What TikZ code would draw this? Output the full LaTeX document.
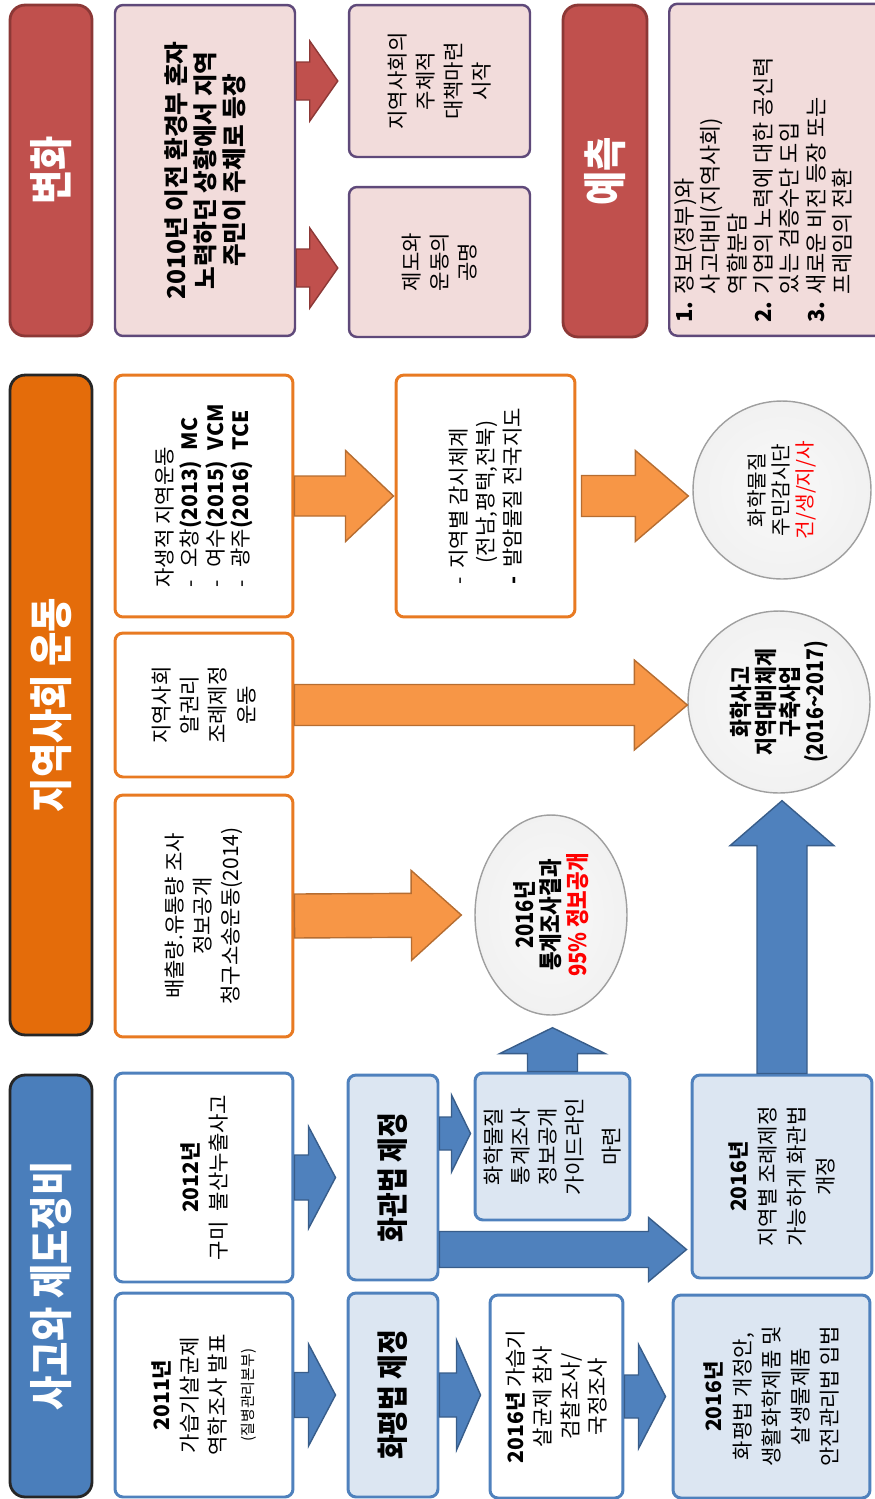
\documentclass[tikz,border=0pt]{standalone}
\usepackage{fontspec}
\setmainfont{Noto Sans CJK KR}
\newfontfamily\headfont[FakeStretch=0.85]{Noto Sans CJK KR}
\usetikzlibrary{calc,shapes.geometric}

\definecolor{hdred}{HTML}{C0504D}
\definecolor{hdredline}{HTML}{8C3836}
\definecolor{pinkfill}{HTML}{F2DCDB}
\definecolor{purpline}{HTML}{5F497A}
\definecolor{hdorange}{HTML}{E46C0A}
\definecolor{boxorange}{HTML}{E87A22}
\definecolor{arrorange}{HTML}{F79646}
\definecolor{arrorangeline}{HTML}{B66D31}
\definecolor{hdblue}{HTML}{4A7EBB}
\definecolor{boxblue}{HTML}{4F81BD}
\definecolor{lightblue}{HTML}{DCE6F2}
\definecolor{arrblueline}{HTML}{385D8A}

\pgfdeclareradialshading{ballgray}{\pgfpoint{0bp}{0bp}}{color(0bp)=(gray!5); color(30bp)=(gray!12); color(50bp)=(gray!40)}

% block arrow: [style](from)(to){shaft half}{head half}{head length}
\def\blockarrow[#1](#2)(#3)#4#5#6{%
  \coordinate (bahead) at ($(#3)!#6!(#2)$);
  \draw[#1] ($(#2)!#4!90:(#3)$) -- ($(bahead)!#4!90:(#3)$) -- ($(bahead)!#5!90:(#3)$) -- (#3)
    -- ($(bahead)!#5!-90:(#3)$) -- ($(bahead)!#4!-90:(#3)$) -- ($(#2)!#4!-90:(#3)$) -- cycle;}

\tikzset{
  headbox/.style={rotate=90, rounded corners=0.3cm, line width=1.6pt, text=white, inner sep=0pt,
    font=\headfont\bfseries\fontsize{25}{28}\selectfont},
  pinkbox/.style={rotate=90, draw=purpline, fill=pinkfill, line width=1.4pt, rounded corners=0.16cm,
    align=center, inner sep=2pt, font=\fontsize{12}{16}\selectfont},
  orbox/.style={rotate=90, draw=boxorange, fill=white, line width=1.7pt, rounded corners=0.16cm,
    align=center, inner sep=2pt, font=\fontsize{12}{16}\selectfont},
  bluebox/.style={rotate=90, draw=boxblue, fill=white, line width=1.7pt, rounded corners=0.16cm,
    align=center, inner sep=2pt, font=\fontsize{12}{16}\selectfont},
  lbluebox/.style={bluebox, fill=lightblue},
  ball/.style={circle, rotate=90, draw=gray!75, line width=0.8pt, shading=ballgray, align=center, inner sep=0pt},
  redarrow/.style={fill=hdred, draw=hdredline, line width=0.8pt},
  orarrow/.style={fill=arrorange, draw=arrorangeline, line width=0.8pt},
  bluearrow/.style={fill=boxblue, draw=arrblueline, line width=0.8pt}
}

\begin{document}
\begin{tikzpicture}[x=0.02cm, y=-0.02cm]
  \useasboundingbox (0,0) rectangle (875,1499);

  %%%%% TOP ROW %%%%%
  \node[headbox, fill=hdred, draw=hdredline, minimum width=6.62cm, minimum height=1.64cm] (hdChange) at (51,170.5) {변화};
  \node[pinkbox, font=\bfseries\fontsize{14}{16.5}\selectfont, minimum width=6.62cm, minimum height=3.6cm] (bigBox) at (205,170.5)
    {2010년 이전 환경부 혼자\\노력하던 상황에서 지역\\주민이 주체로 등장};
  \node[pinkbox, minimum width=3.04cm, minimum height=3.62cm] (ownBox) at (439.5,81) {지역사회의\\주체적\\대책마련\\시작};
  \node[pinkbox, minimum width=3.0cm, minimum height=3.62cm] (resBox) at (439.5,262) {제도와\\운동의\\공명};
  \node[headbox, fill=hdred, draw=hdredline, minimum width=6.64cm, minimum height=1.68cm] (hdForecast) at (605,171) {예측};
  \node[pinkbox, anchor=north west, minimum width=6.64cm, minimum height=4.8cm] (fcBox) at (668,337) {};
  \node[rotate=90, anchor=north west, align=left, inner sep=0pt, font=\fontsize{12.5}{15}\selectfont] (fcText) at (674,323)
    {\makebox[1.3em][l]{\bfseries 1.}정보(정부)와\\
     \hspace*{1.3em}사고대비(지역사회)\\
     \hspace*{1.3em}역할분담\\
     \makebox[1.3em][l]{\bfseries 2.}기업의 노력에 대한 공신력\\
     \hspace*{1.3em}있는 검증수단 도입\\
     \makebox[1.3em][l]{\bfseries 3.}새로운 비전 등장 또는\\
     \hspace*{1.3em}프레임의 전환};

  \coordinate (tipOwn) at ($(ownBox.north)+(-10,0)$);
  \coordinate (fromRes) at ($(bigBox.south |- resBox)+(0,6)$);
  \coordinate (tipRes) at ($(resBox.north)+(-10,6)$);
  \blockarrow[redarrow](bigBox.south |- ownBox)(tipOwn){0.38cm}{0.8cm}{0.56cm}
  \blockarrow[redarrow](fromRes)(tipRes){0.38cm}{0.8cm}{0.56cm}

  %%%%% MIDDLE ROW %%%%%
  \node[headbox, fill=hdorange, draw=black!85, minimum width=13.2cm, minimum height=1.64cm] (hdCommunity) at (51,705) {지역사회 운동};
  \node[orbox, align=left, font=\fontsize{12}{14.5}\selectfont, minimum width=4.84cm, minimum height=3.56cm] (selfBox) at (204,496)
    {자생적 지역운동\\-\hspace{0.6em}오창\textbf{(2013)\hspace{0.5em}MC}\\-\hspace{0.6em}여수\textbf{(2015)\hspace{0.5em}VCM}\\-\hspace{0.6em}광주\textbf{(2016)\hspace{0.5em}TCE}};
  \node[orbox, align=left, font=\fontsize{12}{15.5}\selectfont, minimum width=4.84cm, minimum height=3.58cm] (watchBox) at (485.5,496)
    {-\hspace{0.4em}지역별 감시체계\\\hspace*{1em}(전남,평택,전북)\\\textbf{-}\hspace{0.4em}발암물질 전국지도};
  \node[ball, minimum size=3.56cm, font=\fontsize{11.5}{13.5}\selectfont] (watchCircle) at (782,490)
    {화학물질\\주민감시단\\\textcolor{red}{건/생/지/사}};
  \node[orbox, minimum width=2.88cm, minimum height=3.56cm] (rightBox) at (204,705) {지역사회\\알권리\\조례제정\\운동};
  \node[ball, minimum size=3.64cm, font=\headfont\bfseries\fontsize{13}{14}\selectfont] (prepCircle) at (779,702)
    {화학사고\\지역대비체계\\구축사업\\(2016\textasciitilde2017)};
  \node[orbox, minimum width=4.84cm, minimum height=3.56cm] (disclBox) at (204,916) {배출량.유통량 조사\\정보공개\\청구소송운동(2014)};
  \node[ball, ellipse, minimum width=4.0cm, minimum height=3.04cm, font=\headfont\bfseries\fontsize{13.5}{15}\selectfont] (statEllipse) at (551,915)
    {2016년\\통계조사결과\\\textcolor{red}{95\% 정보공개}};

  \coordinate (tipWatch) at ($(watchBox.north)+(-1,0)$);
  \coordinate (fromWatch) at ($(watchBox.south)+(5,0)$);
  \coordinate (tipWatchC) at ($(watchCircle.north |- watchBox.south)+(-4,0)$);
  \coordinate (tipPrep) at (prepCircle.north |- rightBox.south);
  \coordinate (tipStat) at ($(statEllipse.north)+(-13,0)$);
  \blockarrow[orarrow](selfBox.south)(tipWatch){0.4cm}{0.91cm}{0.96cm}
  \blockarrow[orarrow](fromWatch)(tipWatchC){0.41cm}{0.91cm}{1.06cm}
  \blockarrow[orarrow](rightBox.south)(tipPrep){0.41cm}{0.9cm}{1.06cm}
  \blockarrow[orarrow](disclBox.south)(tipStat){0.44cm}{0.9cm}{1.0cm}

  %%%%% BOTTOM ROW %%%%%
  \node[headbox, fill=hdblue, draw=black!85, minimum width=8.44cm, minimum height=1.64cm] (hdAccident) at (51,1286) {사고와 제도정비};
  \node[bluebox, minimum width=4.18cm, minimum height=3.56cm] (gumiBox) at (204,1177.5) {\textbf{2012년}\\구미\hspace{0.5em}불산누출사고};
  \node[bluebox, minimum width=4.08cm, minimum height=3.56cm] (humidBox) at (204,1395)
    {\textbf{2011년}\\가습기살균제\\역학조사 발표\\{\fontsize{8.5}{12}\selectfont(질병관리본부)}};
  \node[lbluebox, font=\headfont\bfseries\fontsize{18}{20}\selectfont, minimum width=4.1cm, minimum height=1.8cm] (lawChemBox) at (393,1177.5) {화관법 제정};
  \node[lbluebox, font=\headfont\bfseries\fontsize{18}{20}\selectfont, minimum width=4.08cm, minimum height=1.8cm] (lawEvalBox) at (393,1395) {화평법 제정};
  \node[lbluebox, font=\fontsize{12}{15.4}\selectfont, minimum width=2.94cm, minimum height=3.1cm] (guideBox) at (552.5,1146.5)
    {화학물질\\통계조사\\정보공개\\가이드라인\\[0.2cm]마련};
  \node[lbluebox, font=\fontsize{12}{16.5}\selectfont, minimum width=4.06cm, minimum height=3.6cm] (ordinBox) at (782,1176.5)
    {\textbf{2016년}\\지역별 조례제정\\가능하게 화관법\\개정};
  \node[bluebox, font=\fontsize{12}{15.5}\selectfont, minimum width=4.06cm, minimum height=2.66cm] (probeBox) at (556.5,1396.5)
    {\textbf{2016년} 가습기\\살균제 참사\\검찰조사/\\국정조사};
  \node[lbluebox, font=\fontsize{12}{16.5}\selectfont, minimum width=4.06cm, minimum height=3.94cm] (actBox) at (771.5,1396.5)
    {\textbf{2016년}\\화평법 개정안,\\생활화학제품 및\\살생물제품\\안전관리법 입법};

  \coordinate (tipLawChem) at ($(lawChemBox.north)+(-11,0)$);
  \coordinate (tipLawEval) at ($(lawEvalBox.north)+(-11,0)$);
  \coordinate (fromGuide) at ($(lawChemBox.south |- guideBox)+(0,-13)$);
  \coordinate (tipGuide) at ($(guideBox.north)+(-3,-13)$);
  \coordinate (fromOrdin) at ($(lawChemBox.south)+(0,72)$);
  \coordinate (tipOrdin) at ($(ordinBox.north |- fromOrdin)+(-4,0)$);
  \coordinate (tipStatUp) at ($(guideBox.east |- statEllipse.west)+(0,12)$);
  \coordinate (tipPrepUp) at ($(ordinBox.east |- prepCircle.west)+(0,7)$);
  \coordinate (tipProbe) at ($(probeBox.north |- lawEvalBox.south)+(-8,0)$);
  \coordinate (tipAct) at ($(actBox.north)+(-6,0)$);
  \blockarrow[bluearrow](gumiBox.south)(tipLawChem){0.45cm}{1.02cm}{0.54cm}
  \blockarrow[bluearrow](humidBox.south)(tipLawEval){0.45cm}{1.02cm}{0.54cm}
  \blockarrow[bluearrow](fromGuide)(tipGuide){0.33cm}{0.77cm}{0.38cm}
  \blockarrow[bluearrow](fromOrdin)(tipOrdin){0.36cm}{0.64cm}{0.76cm}
  \blockarrow[bluearrow](guideBox.east)(tipStatUp){0.5cm}{1.06cm}{0.52cm}
  \blockarrow[bluearrow](ordinBox.east)(tipPrepUp){0.5cm}{1.04cm}{0.9cm}
  \blockarrow[bluearrow](lawEvalBox.south)(tipProbe){0.44cm}{1.1cm}{0.48cm}
  \blockarrow[bluearrow](probeBox.south)(tipAct){0.43cm}{1.04cm}{0.54cm}
\end{tikzpicture}
\end{document}
